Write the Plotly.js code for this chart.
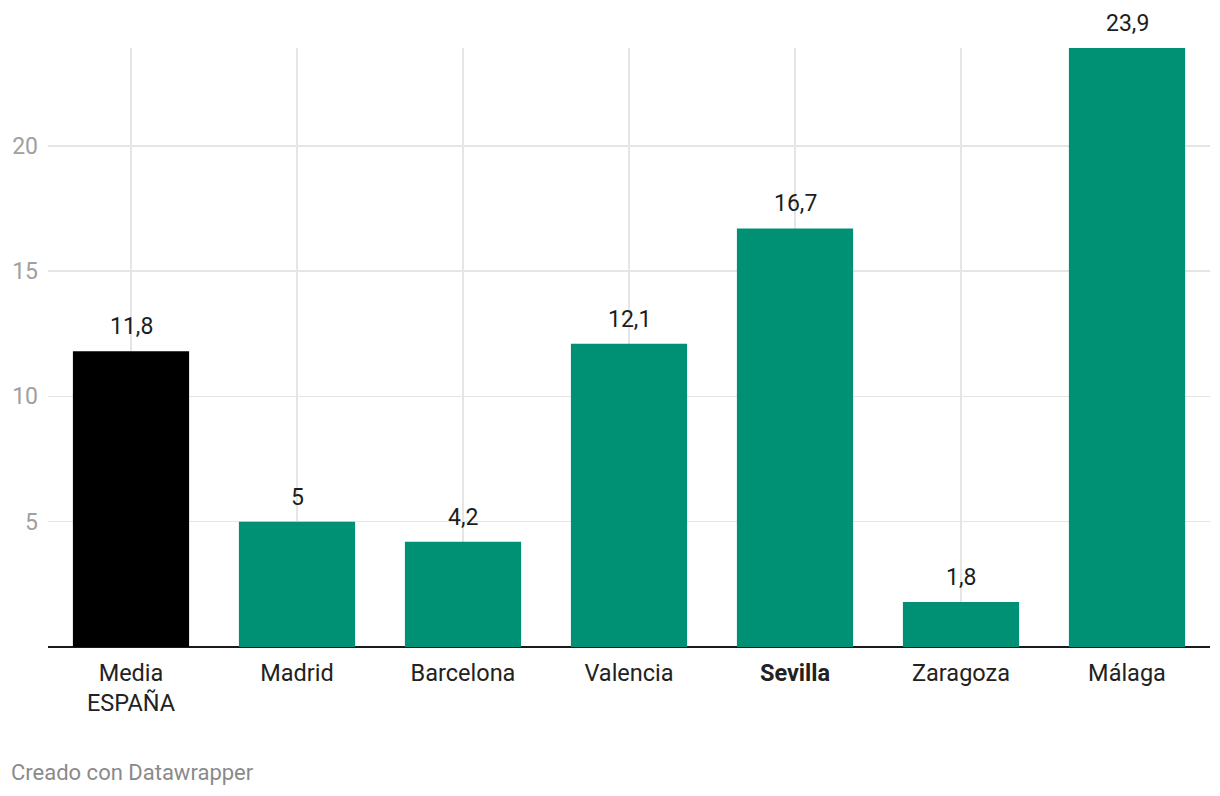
<!DOCTYPE html>
<html>
<head>
<meta charset="utf-8">
<script src="https://cdn.plot.ly/plotly-3.0.1.min.js"></script>
<style>
html,body{margin:0;padding:0;background:#fff;}
#chart{width:1220px;height:796px;}
</style>
</head>
<body>
<div id="chart"></div>
<script>
const categories = ["Media ESPAÑA", "Madrid", "Barcelona", "Valencia", "Sevilla", "Zaragoza", "Málaga"];
const tickLabels = ["Media<br>ESPAÑA", "Madrid", "Barcelona", "Valencia", "<b>Sevilla</b>", "Zaragoza", "Málaga"];
const values = [11.8, 5, 4.2, 12.1, 16.7, 1.8, 23.9];
const barColors = ["#000000", "#009175", "#009175", "#009175", "#009175", "#009175", "#009175"];
const yTicks = [5, 10, 15, 20];

const fmt = v => String(v).replace(".", ",");

const trace = {
  type: "bar",
  x: categories,
  y: values,
  marker: {color: barColors, line: {width: 0}},
  hoverinfo: "none"
};

const annotations = categories.map((c, i) => ({
  x: c, y: values[i], xref: "x", yref: "y",
  text: fmt(values[i]), showarrow: false,
  yanchor: "bottom", xanchor: "center", yshift: 9,
  font: {family: "Roboto", size: 23, color: "#1d1d1d"}
}));
annotations.push({
  xref: "paper", yref: "paper", x: 0, y: 0,
  xanchor: "left", yanchor: "middle",
  xshift: -39, yshift: -125,
  text: "Creado con Datawrapper", showarrow: false,
  font: {family: "Roboto", size: 22, color: "#8a8a8a"}
});

const layout = {
  width: 1220, height: 796,
  margin: {l: 48, r: 10, t: 48, b: 149},
  paper_bgcolor: "#ffffff", plot_bgcolor: "#ffffff",
  bargap: 0.3,
  showlegend: false,
  font: {family: "Roboto", color: "#333333"},
  xaxis: {
    type: "category",
    tickvals: categories, ticktext: tickLabels,
    showgrid: true, gridcolor: "#e5e5e5", gridwidth: 1.6,
    showline: false, zeroline: false, ticks: "",
    ticklabelstandoff: 9,
    tickfont: {family: "Roboto", size: 23.5, color: "#222222"},
    fixedrange: true
  },
  yaxis: {
    range: [0, 23.9],
    tickvals: yTicks, ticktext: yTicks.map(String),
    showgrid: true, gridcolor: "#e5e5e5", gridwidth: 1.6,
    zeroline: true, zerolinecolor: "#1a1a1a", zerolinewidth: 2,
    showline: false, ticks: "",
    ticklabelstandoff: 9,
    tickfont: {family: "Roboto", size: 23, color: "#a0a0a0"},
    fixedrange: true
  },
  annotations: annotations
};

Plotly.newPlot("chart", [trace], layout, {displayModeBar: false, staticPlot: true});
</script>
</body>
</html>
